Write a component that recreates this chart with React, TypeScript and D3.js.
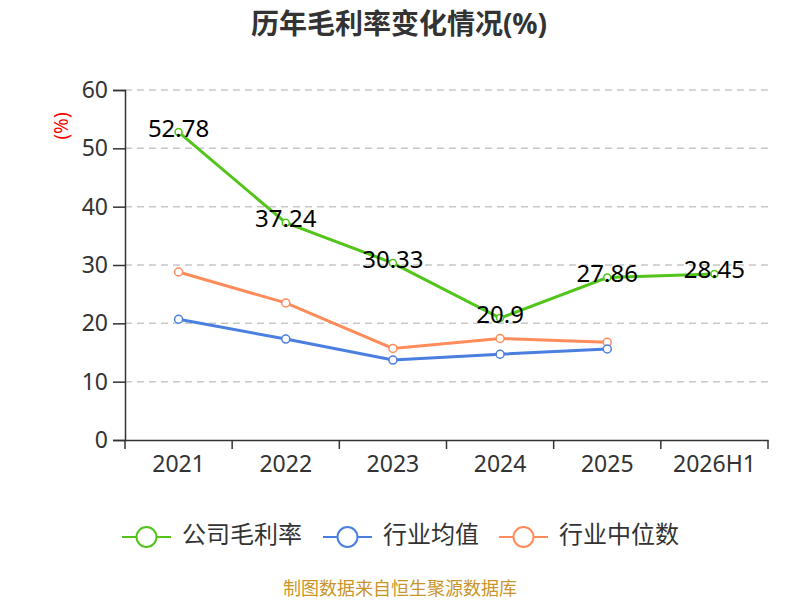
import { useEffect, useRef } from 'react';
import * as d3 from 'd3';

const years = ['2021', '2022', '2023', '2024', '2025', '2026H1'];
const companyMargin = [52.78, 37.24, 30.33, 20.9, 27.86, 28.45];
const industryAvg = [20.7, 17.3, 13.7, 14.7, 15.6];
const industryMedian = [28.8, 23.5, 15.7, 17.4, 16.75];
const yTicks = [0, 10, 20, 30, 40, 50, 60];

const seriesNames = ['公司毛利率', '行业均值', '行业中位数'];
const colors = ['#52c41a', '#4a7fe0', '#ff8c5a'];

const FONT = '"Noto Sans", "Noto Sans CJK SC", sans-serif';

const App = () => {
  const svgRef = useRef<SVGSVGElement>(null);

  useEffect(() => {
    if (!svgRef.current) return;
    const svg = d3.select(svgRef.current);
    svg.selectAll('*').remove();

    const margin = { top: 90, right: 32, bottom: 160, left: 125 };
    const width = 800;
    const height = 600;
    const innerWidth = width - margin.left - margin.right;
    const innerHeight = height - margin.top - margin.bottom;

    const x = d3.scaleBand().domain(years).range([0, innerWidth]);
    const y = d3.scaleLinear().domain([0, 60]).range([innerHeight, 0]);

    // title
    svg.append('text')
      .attr('x', 399)
      .attr('y', 34)
      .attr('text-anchor', 'middle')
      .attr('font-size', 28)
      .attr('font-weight', 'bold')
      .attr('fill', '#333')
      .attr('font-family', FONT)
      .text('历年毛利率变化情况(%)');

    const g = svg.append('g').attr('transform', `translate(${margin.left},${margin.top})`);

    // grid lines
    g.selectAll('.grid')
      .data(yTicks.filter(d => d > 0))
      .enter()
      .append('line')
      .attr('x1', 0)
      .attr('x2', innerWidth)
      .attr('y1', d => y(d))
      .attr('y2', d => y(d))
      .attr('stroke', '#c8c8c8')
      .attr('stroke-width', 1.5)
      .attr('stroke-dasharray', '7,5');

    // y axis
    const yAxis = g.append('g')
      .call(d3.axisLeft(y).tickValues(yTicks).tickSize(12).tickPadding(5));
    yAxis.select('.domain').attr('stroke', '#333').attr('stroke-width', 1.5);
    yAxis.selectAll('line').attr('stroke', '#333').attr('stroke-width', 1.5);
    yAxis.selectAll('text')
      .attr('font-size', 23)
      .attr('fill', '#333')
      .attr('font-family', FONT);

    // x axis
    const xAxis = g.append('g')
      .attr('transform', `translate(0,${innerHeight})`)
      .call(d3.axisBottom(x).tickSize(0).tickPadding(16).tickSizeOuter(0));
    xAxis.select('.domain').attr('stroke', '#333').attr('stroke-width', 1.5);
    xAxis.selectAll('text')
      .attr('font-size', 23)
      .attr('fill', '#333')
      .attr('font-family', FONT);
    const boundaries = years.map(d => x(d) as number).concat([innerWidth]);
    xAxis.selectAll('.bound')
      .data(boundaries)
      .enter()
      .append('line')
      .attr('x1', d => d)
      .attr('x2', d => d)
      .attr('y1', 0)
      .attr('y2', 9)
      .attr('stroke', '#333')
      .attr('stroke-width', 1.5);

    // y axis unit label
    svg.append('text')
      .attr('transform', `translate(63,126) rotate(-90)`)
      .attr('text-anchor', 'middle')
      .attr('dominant-baseline', 'middle')
      .attr('font-size', 19)
      .attr('fill', 'red')
      .attr('font-family', FONT)
      .text('(%)');

    const cx = (i: number) => (x(years[i]) as number) + x.bandwidth() / 2;
    const line = d3.line<number>().x((_, i) => cx(i)).y(d => y(d));

    const allSeries = [companyMargin, industryAvg, industryMedian];
    const order = [2, 1, 0];
    order.forEach(si => {
      const data = allSeries[si];
      g.append('path')
        .datum(data)
        .attr('fill', 'none')
        .attr('stroke', colors[si])
        .attr('stroke-width', 3)
        .attr('d', line);
      g.selectAll(`.pt${si}`)
        .data(data)
        .enter()
        .append('circle')
        .attr('cx', (_, i) => cx(i))
        .attr('cy', d => y(d))
        .attr('r', si === 0 ? 3.5 : 4)
        .attr('fill', '#fff')
        .attr('stroke', colors[si])
        .attr('stroke-width', 1.5);
    });

    // labels for company margin
    g.selectAll('.lbl')
      .data(companyMargin)
      .enter()
      .append('text')
      .attr('x', (_, i) => cx(i))
      .attr('y', d => y(d) - 2)
      .attr('text-anchor', 'middle')
      .attr('dominant-baseline', 'middle')
      .attr('font-size', 24)
      .attr('fill', '#000')
      .attr('font-family', FONT)
      .text(d => `${d}`);

    // legend
    const legendX = [122, 323, 499];
    const ly = 537;
    legendX.forEach((lx, i) => {
      const lg = svg.append('g');
      lg.append('line')
        .attr('x1', lx)
        .attr('x2', lx + 49)
        .attr('y1', ly)
        .attr('y2', ly)
        .attr('stroke', colors[i])
        .attr('stroke-width', 2);
      lg.append('circle')
        .attr('cx', lx + 24.5)
        .attr('cy', ly)
        .attr('r', 10)
        .attr('fill', '#fff')
        .attr('stroke', colors[i])
        .attr('stroke-width', 2);
      lg.append('text')
        .attr('x', lx + 60)
        .attr('y', ly)
        .attr('dominant-baseline', 'middle')
        .attr('font-size', 24)
        .attr('fill', '#333')
        .attr('font-family', FONT)
        .text(seriesNames[i]);
    });

    // footer
    svg.append('text')
      .attr('x', width / 2)
      .attr('y', 595)
      .attr('text-anchor', 'middle')
      .attr('font-size', 18)
      .attr('fill', '#c9952b')
      .attr('font-family', FONT)
      .text('制图数据来自恒生聚源数据库');
  }, []);

  return <svg ref={svgRef} width={800} height={600} style={{ position: 'absolute', left: 0, top: 0 }} />;
};

export default App;
